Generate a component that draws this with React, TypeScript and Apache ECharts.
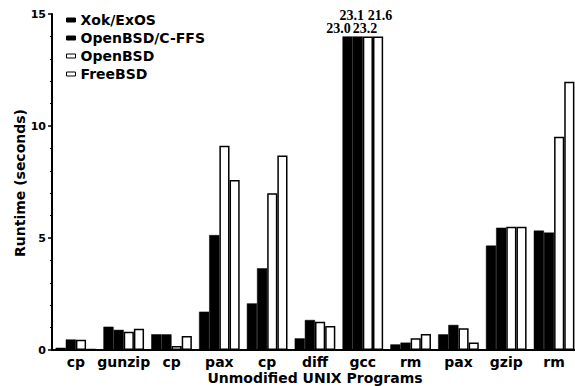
import React, { useEffect, useRef } from "react";
import * as echarts from "echarts";

const categories = ["cp", "gunzip", "cp", "pax", "cp", "diff", "gcc", "rm", "pax", "gzip", "rm"];
const xokExos = [0.1, 1.04, 0.7, 1.71, 2.08, 0.52, 23.0, 0.25, 0.7, 4.66, 5.33];
const openbsdCffs = [0.47, 0.9, 0.7, 5.13, 3.65, 1.34, 23.1, 0.33, 1.12, 5.46, 5.24];
const openbsd = [0.46, 0.82, 0.18, 9.12, 7.0, 1.26, 23.2, 0.52, 0.97, 5.5, 9.52];
const freebsd = [0.05, 0.95, 0.62, 7.59, 8.68, 1.07, 21.6, 0.71, 0.34, 5.5, 11.98];
const seriesNames = ["Xok/ExOS", "OpenBSD/C-FFS", "OpenBSD", "FreeBSD"];
const xAxisTitle = "Unmodified UNIX Programs";
const yAxisTitle = "Runtime (seconds)";
const yTicks = { min: 0, max: 15, interval: 5 };
const CLIP = 14;

const SANS = "DejaVu Sans";
const SERIF = "Liberation Serif";

export default function App() {
  const ref = useRef<HTMLDivElement>(null);
  useEffect(() => {
    if (!ref.current) return;
    const chart = echarts.init(ref.current, undefined, { renderer: "svg" });
    const all = [xokExos, openbsdCffs, openbsd, freebsd];
    const labelOffsets = [
      [-9, 0],
      [-6, -13],
      [-3, 0],
      [2, -13],
    ];
    const series = all.map((vals, i) => {
      const filled = i < 2;
      return {
        name: seriesNames[i],
        type: "bar",
        barGap: "0%",
        barCategoryGap: "15%",
        itemStyle: filled
          ? { color: "#000", borderColor: "#000", borderWidth: 0.5 }
          : { color: "#fff", borderColor: "#000", borderWidth: 1.5 },
        label: {
          show: false,
          position: "top",
          distance: 1,
          offset: labelOffsets[i],
          color: "#000",
          fontFamily: SERIF,
          fontWeight: "bold",
          fontSize: 14,
        },
        data: vals.map((v) =>
          v > CLIP
            ? { value: CLIP, label: { show: true, formatter: v.toFixed(1) } }
            : v
        ),
      };
    });
    const titleStyle = {
      fontFamily: SANS,
      fontWeight: "bold",
      fontSize: 14,
      fill: "#000",
      align: "center",
      verticalAlign: "middle",
    };
    chart.setOption({
      animation: false,
      grid: { left: 52, top: 14, bottom: 36, width: 526, outerBoundsMode: "none", containLabel: false },
      legend: {
        orient: "vertical",
        left: 66,
        top: 13,
        padding: 0,
        itemWidth: 9,
        itemHeight: 4,
        itemGap: 4,
        icon: "rect",
        data: seriesNames,
        itemStyle: { borderWidth: 1 },
        textStyle: { fontFamily: SANS, fontWeight: "bold", fontSize: 14, color: "#000" },
      },
      graphic: [
        { type: "text", x: 315, y: 378, style: { ...titleStyle, text: xAxisTitle } },
        { type: "text", x: 20, y: 183, rotation: Math.PI / 2, style: { ...titleStyle, text: yAxisTitle } },
      ],
      xAxis: {
        type: "category",
        data: categories,
        axisLine: { show: true, lineStyle: { color: "#000", width: 2 } },
        axisTick: { show: false },
        axisLabel: {
          margin: 5,
          interval: 0,
          fontFamily: SANS,
          fontWeight: "bold",
          fontSize: 14,
          color: "#000",
        },
      },
      yAxis: {
        type: "value",
        min: yTicks.min,
        max: yTicks.max,
        interval: yTicks.interval,
        axisLine: { show: true, lineStyle: { color: "#000", width: 2 } },
        axisTick: { show: true, inside: false, length: 4, lineStyle: { color: "#000", width: 1.5 } },
        minorTick: { show: true, splitNumber: 5, length: 2, lineStyle: { color: "#000", width: 1 } },
        splitLine: { show: false },
        axisLabel: {
          margin: 6,
          fontFamily: SANS,
          fontWeight: "bold",
          fontSize: 11,
          color: "#000",
        },
      },
      series,
    });
    return () => chart.dispose();
  }, []);
  return <div ref={ref} style={{ width: 575, height: 386, position: "absolute", left: 0, top: 0, background: "#fff" }} />;
}
